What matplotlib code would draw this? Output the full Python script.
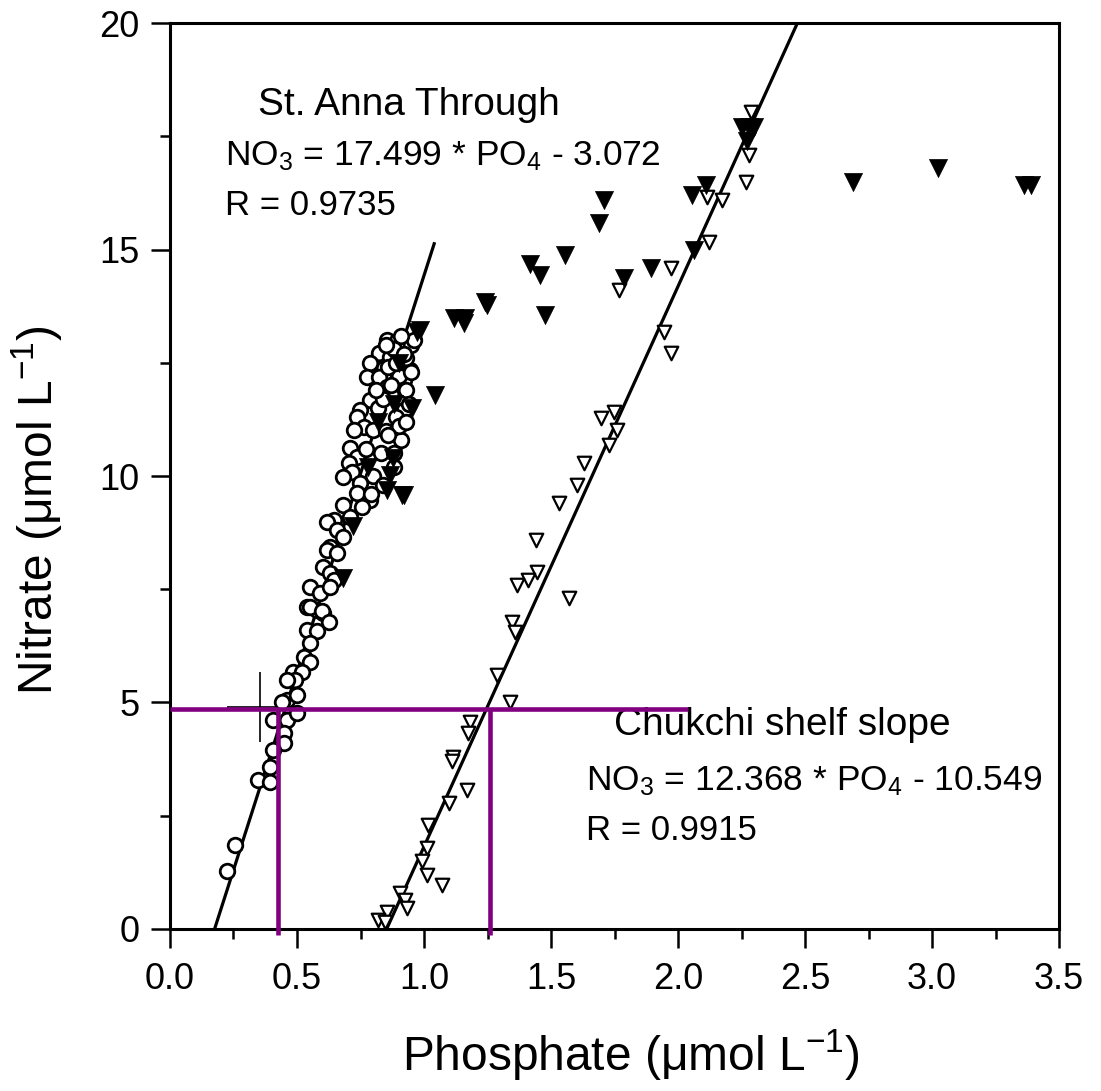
import numpy as np
import matplotlib
matplotlib.use("Agg")
import matplotlib.pyplot as plt
from matplotlib.ticker import MultipleLocator, FormatStrFormatter

plt.rcParams['font.family'] = ['Liberation Sans', 'DejaVu Sans']
plt.rcParams['mathtext.fontset'] = 'custom'
plt.rcParams['mathtext.rm'] = 'Liberation Sans'
plt.rcParams['mathtext.it'] = 'Liberation Sans'

# St. Anna Trough samples (open circles)
anna_po4 = [0.854, 0.893, 0.920, 0.821, 0.867, 0.788, 0.907, 0.946, 0.841, 0.775,
            0.821, 0.920, 0.854, 0.788, 0.749, 0.920, 0.736, 0.762, 0.801, 0.723,
            0.710, 0.736, 0.703, 0.716, 0.683, 0.749, 0.736, 0.788, 0.755, 0.683,
            0.710, 0.644, 0.618, 0.657, 0.683, 0.631, 0.618, 0.657, 0.604, 0.631,
            0.644, 0.552, 0.591, 0.631, 0.539, 0.578, 0.604,
            0.88, 0.93, 0.95, 0.90, 0.87, 0.93, 0.89, 0.94, 0.85, 0.91,
            0.83, 0.88, 0.80, 0.84, 0.95, 0.96, 0.91, 0.82, 0.86, 0.77, 0.79,
            0.87, 0.90, 0.92, 0.84, 0.86, 0.89, 0.81, 0.93, 0.88, 0.85,
            0.552, 0.598, 0.624, 0.539, 0.578, 0.552, 0.526, 0.552, 0.486, 0.519,
            0.493, 0.460, 0.460, 0.499, 0.440, 0.407, 0.460, 0.499, 0.447, 0.447,
            0.407, 0.394, 0.348, 0.394, 0.256, 0.223]
anna_no3 = [13.0, 12.97, 12.85, 12.71, 12.63, 12.49, 12.41, 12.34, 12.38, 12.19,
            12.19, 12.12, 11.97, 11.68, 11.46, 11.46, 11.31, 11.09, 11.01, 11.01,
            10.61, 10.43, 10.28, 10.09, 9.98, 9.84, 9.62, 9.47, 9.32, 9.36,
            9.10, 9.03, 8.99, 8.81, 8.66, 8.44, 8.37, 8.29, 8.0, 7.85,
            7.71, 7.56, 7.41, 7.56, 7.11, 7.04, 6.97,
            12.8, 12.6, 12.9, 12.2, 11.8, 11.9, 11.3, 11.6, 11.0, 10.8,
            10.5, 10.2, 10.0, 9.8, 12.3, 13.0, 13.1, 11.5, 12.4, 10.6, 9.6,
            12.0, 11.1, 12.7, 11.7, 10.9, 12.5, 11.9, 11.2, 10.5, 12.9,
            7.11, 7.01, 6.78, 6.6, 6.57, 6.31, 6.01, 5.90, 5.68, 5.68,
            5.5, 5.5, 5.06, 5.17, 5.02, 4.61, 4.61, 4.76, 4.32, 4.1,
            3.95, 3.58, 3.29, 3.25, 1.85, 1.27]

# deep / Atlantic samples (filled triangles)
deep_po4 = [2.25, 2.28, 2.30, 2.27, 2.687, 3.022, 3.363, 3.39, 2.056, 2.109,
            1.708, 1.688, 2.063, 1.557, 1.892, 1.786, 1.419, 1.458, 1.478, 1.248,
            1.24, 1.117, 1.156, 1.16, 0.972, 0.986, 1.045, 0.953, 0.92, 0.879,
            0.867, 0.854, 0.913, 0.682, 0.72, 0.78, 0.82, 0.88, 0.90]
deep_no3 = [17.7, 17.7, 17.7, 17.4, 16.5, 16.81, 16.42, 16.42, 16.2, 16.42,
            16.09, 15.58, 14.99, 14.88, 14.59, 14.37, 14.68, 14.44, 13.55, 13.77,
            13.84, 13.49, 13.38, 13.49, 13.19, 13.22, 11.79, 11.5, 9.58, 10.4,
            10.02, 9.69, 9.58, 7.75, 8.9, 10.2, 11.2, 11.6, 12.5]

# Chukchi shelf slope samples (open triangles)
chuk_po4 = [1.347, 1.36, 1.288, 1.34, 1.18, 1.175, 1.115, 1.11, 1.17, 1.10,
            1.017, 1.012, 0.992, 1.012, 1.071, 0.907, 0.926, 0.933, 0.854, 0.82,
            0.847, 1.943, 1.971, 1.695, 1.746, 1.76, 1.727, 1.628, 1.603, 1.53,
            1.439, 1.445, 1.411, 1.366, 1.569, 2.286, 2.28, 2.266, 2.115, 2.174,
            2.122, 1.971, 1.766]
chuk_no3 = [6.78, 6.56, 5.61, 5.0, 4.58, 4.33, 3.80, 3.7, 3.07, 2.78,
            2.30, 1.79, 1.49, 1.19, 0.97, 0.79, 0.64, 0.46, 0.38, 0.2,
            0.16, 13.19, 12.71, 11.28, 11.42, 11.01, 10.68, 10.29, 9.80, 9.40,
            8.59, 7.89, 7.70, 7.59, 7.31, 18.04, 17.09, 16.5, 16.16, 16.09,
            15.17, 14.59, 14.1]

# regression fits
anna_slope, anna_icpt = 17.499, -3.072
chuk_slope, chuk_icpt = 12.368, -10.549
anna_range = [0.1756, 1.04]
chuk_range = [0.853, 2.47]

# purple reading lines
read_no3 = 4.86
read_po4 = [0.426, 1.26]
read_xmax = 2.04

fig = plt.figure(figsize=(11.01, 10.91), dpi=100)
ax = fig.add_axes([0.1544, 0.1485, 0.8075, 0.8304])

x1 = np.array(anna_range)
ax.plot(x1, anna_slope * x1 + anna_icpt, color='black', lw=2.3, zorder=2)
x2 = np.array(chuk_range)
ax.plot(x2, chuk_slope * x2 + chuk_icpt, color='black', lw=2.3, zorder=2)

ax.scatter(anna_po4, anna_no3, s=110, marker='o', facecolor='white',
           edgecolor='black', linewidths=2.0, zorder=3)
ax.scatter(chuk_po4, chuk_no3, s=95, marker='v', facecolor='white',
           edgecolor='black', linewidths=1.6, zorder=3)
ax.scatter(deep_po4, deep_no3, s=170, marker='v', facecolor='black',
           edgecolor='black', linewidths=0.5, zorder=4)

# error cross
ax.errorbar([0.355], [4.9], xerr=[0.13], yerr=[0.78], fmt='none',
            ecolor='black', elinewidth=1.2, capsize=0, zorder=2)

purple = '#800080'
ax.plot([0, read_xmax], [read_no3, read_no3], color=purple, lw=3.3,
        zorder=5, clip_on=False, solid_capstyle='butt')
for p in read_po4:
    ax.plot([p, p], [-0.13, read_no3], color=purple, lw=3.3, zorder=5,
            clip_on=False, solid_capstyle='butt')

ax.text(0.347, 17.97, 'St. Anna Through', fontsize=28)
ax.text(0.217, 16.87, r'NO$_3$ = 17.499 * PO$_4$ - 3.072', fontsize=25.5)
ax.text(0.217, 15.76, 'R = 0.9735', fontsize=25)
ax.text(1.746, 4.28, 'Chukchi shelf slope', fontsize=28)
ax.text(1.636, 3.07, r'NO$_3$ = 12.368 * PO$_4$ - 10.549', fontsize=25.5)
ax.text(1.636, 1.96, 'R = 0.9915', fontsize=25)

ax.set_xlim(0, 3.5)
ax.set_ylim(0, 20)
ax.xaxis.set_major_locator(MultipleLocator(0.5))
ax.xaxis.set_minor_locator(MultipleLocator(0.25))
ax.xaxis.set_major_formatter(FormatStrFormatter('%.1f'))
ax.yaxis.set_major_locator(MultipleLocator(5))
ax.yaxis.set_minor_locator(MultipleLocator(2.5))
ax.tick_params(which='major', direction='out', length=14, width=1.8,
               labelsize=26)
ax.tick_params(which='minor', direction='out', length=7, width=1.8)
ax.tick_params(axis='x', pad=10)
ax.tick_params(axis='y', pad=8)
for sp in ax.spines.values():
    sp.set_linewidth(2.2)

ax.set_xlabel(r'Phosphate ($\mathregular{\mu}$mol L$^{-1}$)', fontsize=34.5,
              va='center')
ax.set_ylabel(r'Nitrate ($\mathregular{\mu}$mol L$^{-1}$)', fontsize=34.5,
              va='center')
ax.xaxis.set_label_coords(0.518, -0.139)
ax.yaxis.set_label_coords(-0.149, 0.4625)

fig.savefig('out.png', dpi=100)
